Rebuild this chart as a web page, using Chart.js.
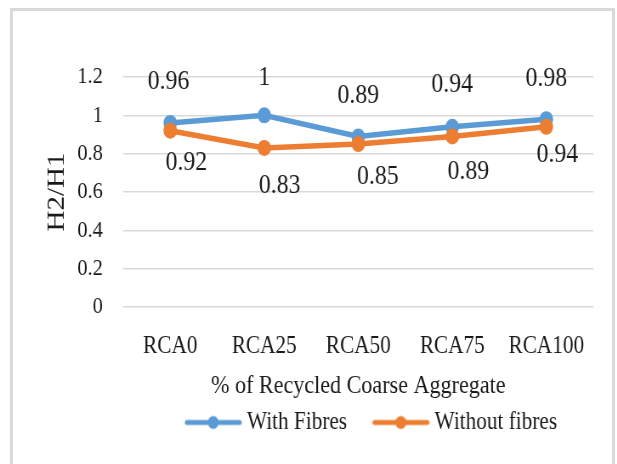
<!DOCTYPE html>
<html>
<head>
<meta charset="utf-8">
<script src="https://cdn.jsdelivr.net/npm/chart.js@4.4.1/dist/chart.umd.min.js"></script>
<style>
  html, body { margin: 0; padding: 0; background: #fff; overflow: hidden; width: 617px; height: 464px; }
  #frame { position: absolute; left: 10px; top: 8px; width: 605px; height: 480px; box-sizing: border-box; border: 3px solid #d9d9d9; }
  /* the drawing surface is laid out wider and squeezed horizontally, giving the narrow serif lettering */
  #stage { position: absolute; left: 0; top: 0; width: 726px; height: 464px; transform: scaleX(0.85); transform-origin: 0 0; }
</style>
</head>
<body>
<div id="frame"></div>
<div id="stage"><canvas id="c" width="726" height="464"></canvas></div>
<script>
// Categories and series
const categories = ['RCA0', 'RCA25', 'RCA50', 'RCA75', 'RCA100'];
const withFibres = [0.96, 1, 0.89, 0.94, 0.98];
const withoutFibres = [0.92, 0.83, 0.85, 0.89, 0.94];
const seriesNames = ['With Fibres', 'Without fibres'];

// Value axis
const yMin = 0;
const yMax = 1.2;
const yStep = 0.2;
const xTitle = '% of Recycled Coarse Aggregate';
const yTitle = 'H2/H1';

const BLUE = '#5b9bd5';
const ORANGE = '#ed7d31';
const TEXT = '#1a1a1a';
const GRID = '#d9d9d9';
const SERIF = '"Liberation Serif", "Times New Roman", serif';

// value label placement per point (pixels from the marker centre):
// first series sits above its markers, second below and a little to the right
const labelDx = [
  [-2, 0, 0, 0, 0],
  [19, 18, 23, 19, 13]
];
const labelDy = [
  [-41, -38, -41, -42, -41],
  [32, 38, 33, 35, 28]
];

const pointLabels = {
  id: 'pointLabels',
  afterDatasetsDraw(chart) {
    const ctx = chart.ctx;
    ctx.save();
    ctx.font = '28px ' + SERIF;
    ctx.fillStyle = TEXT;
    ctx.textAlign = 'center';
    ctx.textBaseline = 'middle';
    chart.data.datasets.forEach((ds, i) => {
      const meta = chart.getDatasetMeta(i);
      meta.data.forEach((pt, j) => {
        ctx.fillText(String(ds.data[j]), pt.x + labelDx[i][j], pt.y + labelDy[i][j]);
      });
    });
    ctx.restore();
  }
};

// legend swatch: a short thick line with a dot in the middle, sitting at the right of the image
function legendSwatch(color) {
  const c = document.createElement('canvas');
  c.width = 104;
  c.height = 20;
  const g = c.getContext('2d');
  g.strokeStyle = color;
  g.lineWidth = 5;
  g.lineCap = 'round';
  g.beginPath();
  g.moveTo(39, 10);
  g.lineTo(101, 10);
  g.stroke();
  g.fillStyle = color;
  g.beginPath();
  g.arc(70, 10, 6.5, 0, Math.PI * 2);
  g.fill();
  return c;
}
const swatches = [legendSwatch(BLUE), legendSwatch(ORANGE)];

new Chart(document.getElementById('c'), {
  type: 'line',
  data: {
    labels: categories,
    datasets: [
      {
        label: seriesNames[0],
        data: withFibres,
        borderColor: BLUE,
        backgroundColor: BLUE,
        borderWidth: 5.5,
        pointRadius: 8,
        pointBorderWidth: 0,
        pointBackgroundColor: BLUE,
        tension: 0,
        order: 1
      },
      {
        label: seriesNames[1],
        data: withoutFibres,
        borderColor: ORANGE,
        backgroundColor: ORANGE,
        borderWidth: 5.5,
        pointRadius: 8,
        pointBorderWidth: 0,
        pointBackgroundColor: ORANGE,
        tension: 0,
        order: 0
      }
    ]
  },
  options: {
    responsive: false,
    animation: false,
    devicePixelRatio: 1,
    layout: { padding: { top: 77, right: 28, bottom: 19, left: 0 } },
    plugins: {
      tooltip: { enabled: false },
      legend: {
        position: 'bottom',
        fullSize: false,
        labels: {
          usePointStyle: true,
          pointStyleWidth: 90.5,
          padding: 0,
          color: TEXT,
          font: { family: SERIF, size: 25 },
          sort: (a, b) => a.datasetIndex - b.datasetIndex,
          generateLabels(chart) {
            const items = Chart.defaults.plugins.legend.labels.generateLabels(chart);
            items.forEach(it => { it.pointStyle = swatches[it.datasetIndex]; });
            return items;
          }
        }
      }
    },
    scales: {
      x: {
        offset: true,
        grid: { display: false, drawTicks: false },
        border: { display: false },
        ticks: { color: TEXT, font: { family: SERIF, size: 25 }, padding: 24, maxRotation: 0 },
        title: {
          display: true,
          text: xTitle,
          color: TEXT,
          font: { family: SERIF, size: 26 },
          padding: { top: 0, bottom: 8 }
        },
        afterFit(scale) { scale.height = 103; }
      },
      y: {
        min: yMin,
        max: yMax,
        grid: { color: GRID, lineWidth: 1.5, drawTicks: false },
        border: { display: false },
        ticks: {
          stepSize: yStep,
          color: TEXT,
          font: { family: SERIF, size: 24 },
          padding: 24,
          callback: v => String(Math.round(v * 10) / 10)
        },
        title: {
          display: true,
          text: yTitle,
          color: TEXT,
          font: { family: SERIF, size: 29 },
          padding: { top: 50, bottom: 0 }
        },
        afterFit(scale) { scale.width = 145; }
      }
    }
  },
  plugins: [pointLabels]
});
</script>
</body>
</html>
